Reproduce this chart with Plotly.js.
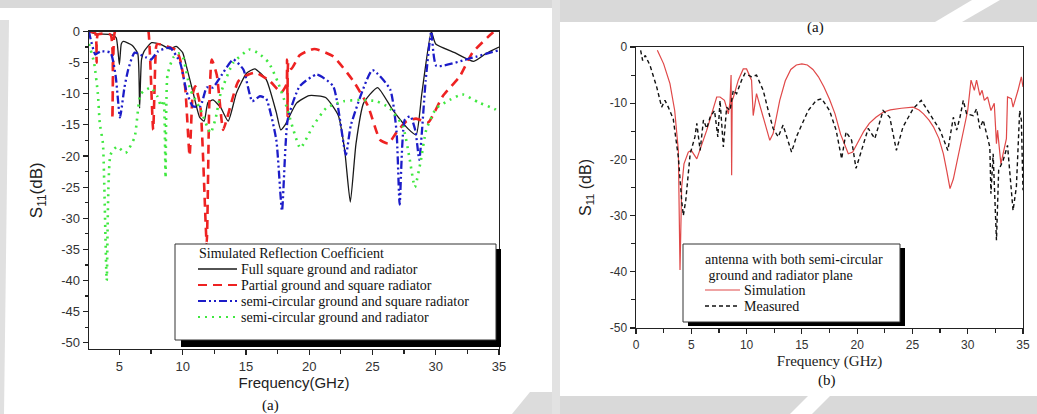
<!DOCTYPE html>
<html>
<head>
<meta charset="utf-8">
<script src="https://cdn.plot.ly/plotly-3.0.1.min.js"></script>
<style>html,body{margin:0;padding:0;background:#fff;}#chart{width:1037px;height:414px;}</style>
</head>
<body>
<div id="chart"></div>
<script>
// ---------- Data: panel (a) simulated reflection coefficient ----------
const fullSquareF = [2.6, 3.2, 4.4, 4.75, 5.0, 5.15, 5.3, 6.0, 6.45, 6.6, 6.75, 6.95, 7.55, 8.3, 9.0, 9.5, 10.0, 10.3, 10.8, 11.35, 11.7, 12.0, 12.4, 13.0, 13.6, 14.25, 15.05, 15.7, 16.6, 17.4, 17.75, 18.1, 19.0, 20.0, 21.3, 22.3, 22.8, 23.25, 23.7, 24.3, 25.4, 26.6, 27.8, 28.45, 28.9, 29.65, 30.0, 31.5, 33.0, 34.0, 35.0];
const fullSquareS = [0, -0.4, -0.5, -1.0, -5.3, -2.0, -1.6, -2.2, -3.5, -12.3, -4.5, -3.2, -1.8, -2.1, -2.8, -2.4, -3.4, -5.6, -9.6, -13.8, -14.4, -11.4, -11.0, -12.2, -14.4, -9.9, -6.7, -6.0, -7.7, -13.0, -15.8, -15.0, -11.5, -10.3, -10.6, -13.5, -19.0, -27.4, -18.0, -11.5, -9.0, -12.6, -15.6, -16.6, -10.0, 0, -2.0, -3.4, -4.8, -3.5, -2.5];

const partialF = [2.6, 3.1, 3.2, 3.3, 4.3, 4.45, 4.6, 5.0, 7.0, 7.3, 7.67, 7.9, 8.0, 8.8, 9.5, 9.8, 10.2, 10.55, 10.8, 11.0, 11.4, 11.9, 12.1, 12.3, 12.7, 13.2, 13.5, 14.4, 15.2, 15.8, 16.9, 17.8, 18.2, 18.25, 18.3, 18.35, 18.6, 19.25, 20.4, 21.9, 23.5, 24.65, 25.6, 26.25, 26.9, 27.7, 28.45, 29.4, 30.55, 31.9, 32.9, 34.5, 35.0];
const partialS = [0, -0.3, -5.0, -0.5, -0.5, -14.0, -0.5, 2.0, 2.0, 0, -15.8, -2.5, -2.0, -2.4, -3.0, -4.5, -9.0, -20.0, -10.0, -8.8, -12.0, -34.0, -12.0, -4.5, -7.0, -15.8, -14.0, -8.0, -6.9, -6.6, -8.0, -9.8, -8.5, -4.5, -13.6, -5.0, -6.0, -3.8, -2.8, -4.0, -8.0, -12.0, -17.4, -18.0, -16.2, -14.4, -14.0, -14.6, -10.4, -7.2, -3.4, -0.2, 0.5];

const semiSquareF = [2.6, 2.7, 3.1, 3.5, 4.3, 4.7, 5.05, 5.4, 5.7, 6.2, 7.15, 7.5, 8.05, 9.0, 9.8, 10.3, 10.8, 11.4, 11.9, 12.4, 12.95, 14.0, 14.8, 15.5, 16.1, 16.6, 17.4, 17.85, 18.3, 19.25, 20.6, 21.9, 22.9, 23.3, 25.0, 26.4, 26.9, 27.15, 27.55, 28.0, 28.4, 28.7, 29.2, 29.65, 30.05, 32.9, 35.0];
const semiSquareS = [0, -1.0, -3.7, -3.2, -3.4, -7.0, -13.8, -9.0, -6.1, -3.4, -4.2, -4.5, -3.2, -2.6, -5.0, -9.6, -12.0, -12.0, -9.0, -9.0, -7.4, -4.5, -6.1, -11.2, -10.4, -10.8, -17.4, -28.8, -14.2, -8.8, -6.9, -8.8, -19.8, -15.0, -6.2, -9.3, -16.0, -27.8, -14.2, -13.6, -16.0, -20.6, -8.0, 0, -5.5, -4.2, -3.0];

const semiBothF = [2.6, 3.0, 3.3, 3.45, 3.7, 4.0, 4.3, 4.8, 5.5, 6.2, 6.7, 7.5, 8.0, 8.3, 8.5, 8.65, 8.8, 9.25, 9.65, 10.0, 10.6, 11.4, 12.2, 12.6, 13.0, 14.0, 15.3, 16.0, 16.8, 17.5, 18.2, 19.3, 20.3, 21.35, 22.7, 24.0, 25.3, 26.3, 27.4, 27.9, 28.35, 28.8, 29.25, 30.05, 31.1, 32.1, 33.4, 34.7, 35.0];
const semiBothS = [-2.0, -5.0, -10.0, -14.7, -18.0, -40.0, -19.8, -18.5, -19.5, -17.0, -10.0, -9.0, -10.4, -12.0, -11.0, -23.5, -7.0, -4.2, -3.5, -4.0, -9.3, -12.5, -16.3, -14.0, -10.0, -5.0, -2.9, -3.5, -5.0, -8.0, -12.0, -18.7, -15.2, -12.3, -11.2, -11.0, -11.2, -12.2, -15.2, -20.0, -25.0, -21.0, -15.8, -12.3, -11.0, -10.1, -11.4, -12.5, -13.0];

// ---------- Data: panel (b) simulation vs measurement ----------
const simF = [1.93, 2.5, 3.07, 3.5, 3.83, 3.98, 4.13, 4.34, 4.73, 5.0, 5.5, 6.4, 7.3, 7.6, 8.0, 8.35, 8.5, 8.6, 8.65, 8.7, 8.8, 9.25, 9.7, 10.0, 10.45, 10.6, 10.9, 11.35, 12.1, 12.4, 13.0, 13.5, 14.0, 14.5, 15.0, 15.5, 16.0, 16.5, 17.0, 17.5, 18.0, 18.5, 19.2, 19.6, 20.2, 20.6, 21.1, 21.7, 22.35, 23.0, 24.0, 25.06, 25.6, 26.0, 26.5, 26.9, 27.4, 27.8, 28.1, 28.4, 28.7, 29.0, 29.3, 29.6, 30.0, 30.3, 30.6, 30.8, 31.1, 31.3, 31.5, 31.8, 32.1, 32.4, 32.6, 32.7, 33.0, 33.5, 33.6, 33.95, 34.1, 34.55, 34.85, 35.0];
const simS = [-0.6, -3.0, -6.5, -11.3, -18.4, -39.7, -24.9, -20.8, -18.7, -18.4, -19.9, -14.8, -8.9, -8.9, -9.5, -11.9, -9.8, -5.0, -22.8, -9.5, -9.0, -5.9, -3.9, -3.9, -5.9, -12.2, -8.3, -11.3, -16.6, -15.4, -9.5, -6.0, -4.0, -3.2, -3.0, -3.2, -4.0, -5.3, -7.1, -9.3, -11.9, -15.5, -19.0, -18.7, -16.6, -15.0, -13.6, -12.5, -11.6, -11.2, -10.9, -10.7, -11.2, -11.9, -13.0, -14.2, -16.3, -19.0, -22.0, -25.2, -23.5, -20.8, -18.0, -15.4, -11.3, -5.9, -7.7, -5.9, -8.6, -7.7, -9.5, -8.9, -11.3, -10.0, -17.2, -14.8, -20.8, -16.3, -8.9, -9.2, -10.7, -7.7, -5.3, -7.1];

const measF = [0.42, 0.6, 0.84, 1.27, 1.87, 2.32, 2.62, 2.92, 3.37, 3.83, 4.13, 4.28, 4.5, 4.9, 5.33, 5.5, 5.8, 6.1, 6.4, 6.7, 7.1, 7.4, 7.6, 7.9, 8.2, 8.5, 8.8, 9.1, 9.55, 9.85, 10.15, 10.45, 10.9, 11.2, 11.5, 11.96, 12.4, 12.86, 13.3, 14.07, 14.5, 15.57, 16.3, 16.8, 17.5, 18.1, 18.6, 19.0, 19.5, 19.9, 20.4, 21.0, 21.6, 22.35, 22.95, 23.55, 24.15, 25.06, 25.8, 26.6, 27.5, 28.2, 28.7, 29.0, 29.3, 29.6, 29.9, 30.5, 30.8, 31.1, 31.4, 31.7, 32.0, 32.1, 32.3, 32.6, 32.8, 33.2, 33.6, 34.1, 34.4, 34.7, 34.85, 35.0];
const measS = [-0.6, -2.4, -1.5, -3.3, -7.1, -10.7, -9.5, -10.7, -12.8, -19.6, -27.3, -30.0, -27.3, -19.0, -16.0, -13.6, -18.4, -13.0, -14.5, -12.5, -11.3, -16.0, -9.5, -17.8, -10.7, -11.3, -7.7, -8.3, -5.9, -4.7, -5.0, -5.3, -5.0, -6.5, -7.7, -11.3, -14.5, -16.0, -13.9, -18.7, -16.0, -11.3, -9.5, -9.2, -11.3, -14.8, -19.9, -15.1, -16.6, -21.6, -18.4, -14.5, -16.3, -11.3, -12.5, -18.4, -14.2, -11.0, -9.5, -11.9, -14.8, -18.4, -12.5, -14.8, -12.5, -9.5, -11.9, -12.2, -11.0, -14.5, -13.0, -15.4, -17.8, -26.1, -19.0, -34.4, -21.9, -20.2, -17.5, -29.1, -24.9, -11.3, -13.0, -25.5];

// ---------- Tick labels & legend text ----------
const leftXTicks = [5, 10, 15, 20, 25, 30, 35];
const leftYTicks = [0, -5, -10, -15, -20, -25, -30, -35, -40, -45, -50];
const rightXTicks = [0, 5, 10, 15, 20, 25, 30, 35];
const rightYTicks = [0, -10, -20, -30, -40, -50];
const seriesNamesA = ['Full square ground and radiator', 'Partial ground and square radiator', 'semi-circular ground and square radiator', 'semi-circular ground and radiator'];
const seriesNamesB = ['Simulation', 'Measured'];
const legendTitleA = 'Simulated Reflection Coefficient';
const legendTitleB = ['antenna with both semi-circular', ' ground and radiator plane'];

// ---------- Layout helpers (pixel -> paper) ----------
const W = 1037, H = 414;
const px = x => x / W;
const py = y => 1 - y / H;

const SERIF = 'Liberation Serif, Times New Roman, serif';
const SANS = 'Liberation Sans, Arial, sans-serif';

const stylesA = [
  {color: '#1a1a1a', width: 1.3, dash: 'solid'},
  {color: '#ee2222', width: 2.6, dash: '9px,6px'},
  {color: '#1c1cc8', width: 2.3, dash: '8px,3px,2px,3px,2px,3px'},
  {color: '#40e840', width: 2.6, dash: '2px,5px'}
];
const stylesB = [
  {color: '#e04848', width: 1.2, dash: 'solid'},
  {color: '#111111', width: 1.4, dash: '4px,3px'}
];
const dataA = [[fullSquareF, fullSquareS], [partialF, partialS], [semiSquareF, semiSquareS], [semiBothF, semiBothS]];
const dataB = [[simF, simS], [measF, measS]];

const traces = [];
dataA.forEach((d, i) => traces.push({x: d[0], y: d[1], name: seriesNamesA[i], type: 'scatter', mode: 'lines',
  line: Object.assign({shape: 'spline', smoothing: 0.5}, stylesA[i]), xaxis: 'x', yaxis: 'y', showlegend: false}));
dataB.forEach((d, i) => traces.push({x: d[0], y: d[1], name: seriesNamesB[i], type: 'scatter', mode: 'lines',
  line: Object.assign({}, stylesB[i]), xaxis: 'x2', yaxis: 'y2', showlegend: false}));

const axisCommon = {
  showline: true, linecolor: '#222', linewidth: 1.4, mirror: true,
  ticks: 'outside', ticklen: 5, tickwidth: 1.2, tickcolor: '#222',
  showgrid: false, zeroline: false, fixedrange: true
};

const shapes = [
  // background watermark bands
  {type: 'rect', xref: 'paper', yref: 'paper', x0: 0, x1: 1, y0: py(8), y1: 1, fillcolor: '#d9d9d9', line: {width: 0}, layer: 'below'},
  {type: 'rect', xref: 'paper', yref: 'paper', x0: px(552), x1: 1, y0: py(22), y1: 1, fillcolor: '#d9d9d9', line: {width: 0}, layer: 'below'},
  {type: 'path', xref: 'paper', yref: 'paper', path: `M${px(935)},${py(22)} L${px(962)},${py(22)} L${px(1000)},${py(0)} L${px(972)},${py(0)} Z`, fillcolor: '#ffffff', line: {width: 0}, layer: 'below'},
  {type: 'rect', xref: 'paper', yref: 'paper', x0: px(552), x1: px(560), y0: py(414), y1: 1, fillcolor: '#e2e2e2', line: {width: 0}, layer: 'below'},
  {type: 'path', xref: 'paper', yref: 'paper', path: `M0,${py(20)} L${px(9)},${py(20)} L${px(4)},${py(414)} L0,${py(414)} Z`, fillcolor: '#e0e0e0', line: {width: 0}, layer: 'below'},
  {type: 'rect', xref: 'paper', yref: 'paper', x0: px(560), x1: 1, y0: 0, y1: py(396), fillcolor: '#d9d9d9', line: {width: 0}, layer: 'below'},
  {type: 'path', xref: 'paper', yref: 'paper', path: `M${px(790)},${py(414)} L${px(812)},${py(414)} L${px(830)},${py(396)} L${px(808)},${py(396)} Z`, fillcolor: '#ffffff', line: {width: 0}, layer: 'below'},
  {type: 'path', xref: 'paper', yref: 'paper', path: `M${px(512)},${py(414)} L${px(552)},${py(414)} L${px(552)},${py(392)} L${px(530)},${py(392)} Z`, fillcolor: '#dcdcdc', line: {width: 0}, layer: 'below'},
  // legend box (a): shadow + box
  {type: 'rect', xref: 'paper', yref: 'paper', x0: px(181), x1: px(501), y0: py(347), y1: py(249), fillcolor: '#000', line: {width: 0}, layer: 'above'},
  {type: 'rect', xref: 'paper', yref: 'paper', x0: px(175), x1: px(496), y0: py(340), y1: py(244), fillcolor: '#fff', line: {color: '#333', width: 1}, layer: 'above'},
  // legend box (b): shadow + box
  {type: 'rect', xref: 'paper', yref: 'paper', x0: px(688), x1: px(905), y0: py(326), y1: py(248), fillcolor: '#000', line: {width: 0}, layer: 'above'},
  {type: 'rect', xref: 'paper', yref: 'paper', x0: px(683), x1: px(900), y0: py(322), y1: py(244), fillcolor: '#fff', line: {color: '#333', width: 1}, layer: 'above'}
];

const legFont = {family: SERIF, size: 14, color: '#111'};
const annotations = [
  {text: '(a)', x: px(270), y: py(405), xref: 'paper', yref: 'paper', showarrow: false, xanchor: 'center', yanchor: 'middle',
   font: {family: SERIF, size: 15, color: '#111'}},
  {text: '(a)', x: px(815), y: py(28), xref: 'paper', yref: 'paper', showarrow: false, xanchor: 'center', yanchor: 'middle',
   font: {family: SERIF, size: 15, color: '#111'}},
  {text: '(b)', x: px(827), y: py(380), xref: 'paper', yref: 'paper', showarrow: false, xanchor: 'center', yanchor: 'middle',
   font: {family: SERIF, size: 15, color: '#111'}},
  {text: legendTitleA, x: px(197), y: py(253), xref: 'paper', yref: 'paper', showarrow: false, xanchor: 'left', yanchor: 'middle', font: legFont},
  {text: legendTitleB[0], x: px(703), y: py(259), xref: 'paper', yref: 'paper', showarrow: false, xanchor: 'left', yanchor: 'middle', font: legFont},
  {text: legendTitleB[1], x: px(703), y: py(275), xref: 'paper', yref: 'paper', showarrow: false, xanchor: 'left', yanchor: 'middle', font: legFont}
];

// legend (a) rows
const rowYA = [269, 285, 301, 317];
seriesNamesA.forEach((n, i) => {
  shapes.push({type: 'line', xref: 'paper', yref: 'paper', x0: px(198), x1: px(237), y0: py(rowYA[i]), y1: py(rowYA[i]),
    line: {color: stylesA[i].color, width: i === 0 ? 1.3 : 2.2, dash: stylesA[i].dash}, layer: 'above'});
  annotations.push({text: n, x: px(239), y: py(rowYA[i]), xref: 'paper', yref: 'paper', showarrow: false,
    xanchor: 'left', yanchor: 'middle', font: legFont});
});
// legend (b) rows
const rowYB = [290, 306];
seriesNamesB.forEach((n, i) => {
  shapes.push({type: 'line', xref: 'paper', yref: 'paper', x0: px(705), x1: px(740), y0: py(rowYB[i]), y1: py(rowYB[i]),
    line: {color: stylesB[i].color, width: stylesB[i].width, dash: stylesB[i].dash}, layer: 'above'});
  annotations.push({text: n, x: px(742), y: py(rowYB[i]), xref: 'paper', yref: 'paper', showarrow: false,
    xanchor: 'left', yanchor: 'middle', font: legFont});
});

const layout = {
  width: W, height: H,
  margin: {l: 0, r: 0, t: 0, b: 0},
  paper_bgcolor: '#ffffff', plot_bgcolor: 'rgba(0,0,0,0)',
  showlegend: false,
  xaxis: Object.assign({}, axisCommon, {
    domain: [px(89), px(499)], range: [2.6, 35], anchor: 'y',
    tickvals: leftXTicks, ticktext: leftXTicks.map(String),
    minor: {tickvals: [7.5, 12.5, 17.5, 22.5, 27.5, 32.5], ticks: 'outside', ticklen: 4, tickcolor: '#222'},
    tickfont: {family: SANS, size: 13, color: '#333'},
    title: {text: 'Frequency(GHz)', font: {family: SANS, size: 15, color: '#222'}, standoff: 4}
  }),
  yaxis: Object.assign({}, axisCommon, {
    domain: [py(349), py(31.5)], range: [-51, 0], anchor: 'x',
    tickvals: leftYTicks, ticktext: leftYTicks.map(String),
    minor: {dtick: 2.5, ticks: 'outside', ticklen: 3, tickcolor: '#222'},
    tickfont: {family: SANS, size: 13, color: '#333'},
    title: {text: 'S<sub>11</sub>(dB)', font: {family: SANS, size: 17, color: '#222'}, standoff: 14}
  }),
  xaxis2: Object.assign({}, axisCommon, {
    domain: [px(636), px(1023)], range: [0, 35], anchor: 'y2',
    tickvals: rightXTicks, ticktext: rightXTicks.map(String),
    minor: {tickvals: [2.5, 7.5, 12.5, 17.5, 22.5, 27.5, 32.5], ticks: 'outside', ticklen: 4, tickcolor: '#222'},
    tickfont: {family: SANS, size: 12, color: '#333'},
    title: {text: 'Frequency (GHz)', font: {family: SERIF, size: 15, color: '#222'}, standoff: 4}
  }),
  yaxis2: Object.assign({}, axisCommon, {
    domain: [py(328), py(47)], range: [-50, 0], anchor: 'x2',
    tickvals: rightYTicks, ticktext: rightYTicks.map(String),
    minor: {tickvals: [-5, -15, -25, -35, -45], ticks: 'outside', ticklen: 4, tickcolor: '#222'},
    tickfont: {family: SANS, size: 12, color: '#333'},
    title: {text: 'S<sub>11</sub> (dB)', font: {family: SANS, size: 16, color: '#222'}, standoff: 14}
  }),
  annotations: annotations,
  shapes: shapes
};

Plotly.newPlot('chart', traces, layout, {staticPlot: true, displayModeBar: false});
</script>
</body>
</html>
